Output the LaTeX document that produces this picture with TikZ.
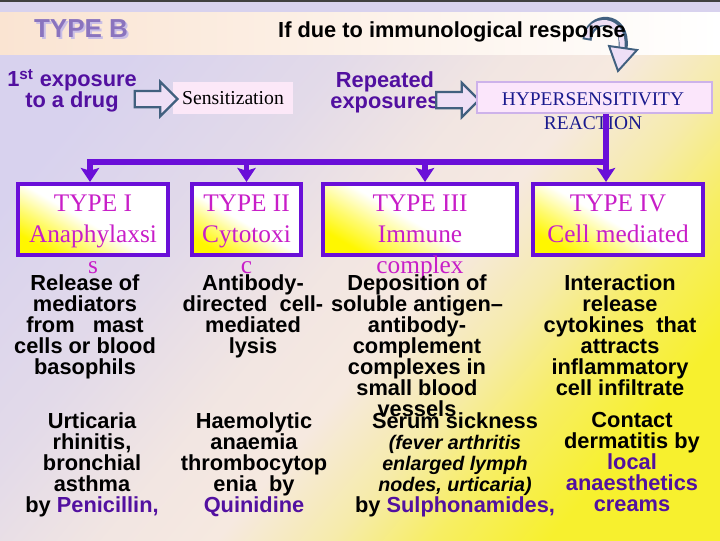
\documentclass[tikz,border=0pt]{standalone}
\usepackage{fontspec}
\setmainfont{Liberation Serif}
\setsansfont{Liberation Sans}
\usepackage{tikz}
\usetikzlibrary{arrows.meta,positioning,calc,shapes.arrows}
\definecolor{drugpurple}{HTML}{5210A0}
\definecolor{typemagenta}{HTML}{C81EC8}
\definecolor{treepurple}{HTML}{6A0FD8}
\definecolor{arrowslate}{HTML}{41607F}
\definecolor{arrowfill}{HTML}{EEDFF6}
\definecolor{hypblue}{HTML}{1A1A8E}
\definecolor{hypfill}{HTML}{FBE6FB}
\definecolor{hypglow}{HTML}{CDB2EA}
\definecolor{sensfill}{HTML}{FCE8F8}
\definecolor{bgviolet}{HTML}{D8D2EE}
\definecolor{bgpeach}{HTML}{F6E9E0}
\definecolor{bgyellow}{HTML}{F7F02E}
\definecolor{bandpeach}{HTML}{FAE4D2}
\definecolor{boxyellow}{HTML}{FFF700}
\definecolor{typebviolet}{HTML}{8A74BE}
\definecolor{typebshade}{HTML}{C9BEE6}
\pgfdeclareverticalshading{slidebg}{100bp}{color(0bp)=(bgyellow); color(25bp)=(bgyellow);
  color(32bp)=(bgyellow!70!bgpeach); color(38bp)=(bgyellow!30!bgpeach); color(45bp)=(bgpeach);
  color(52bp)=(bgpeach!85!bgviolet); color(62bp)=(bgviolet!65!bgpeach); color(75bp)=(bgviolet);
  color(100bp)=(bgviolet)}
\pgfdeclareverticalshading{boxglow}{100bp}{color(0bp)=(boxyellow); color(25bp)=(boxyellow);
  color(36bp)=(boxyellow!55!white); color(48bp)=(white); color(100bp)=(white)}
\newcommand{\drugname}[1]{\textcolor{drugpurple}{#1}}
\newcommand{\symptom}[1]{{\itshape\fontsize{14}{15}\selectfont #1}}

\begin{document}
\begin{tikzpicture}[x=0.025cm,y=-0.025cm,
  bodytext/.style={font=\sffamily\bfseries\fontsize{15.5}{15}\selectfont,align=center,
                   inner sep=0pt,anchor=north},
  drugtext/.style={bodytext,text=drugpurple},
  typebox/.style={draw=treepurple,line width=2.8pt,minimum height=1.775cm,inner sep=0pt,
                  shading=boxglow,shading angle=-30},
  typetext/.style={font=\fontsize{18}{22}\selectfont,text=typemagenta,align=center,
                   inner sep=0pt,anchor=north},
  blockarrow/.style={single arrow,draw=arrowslate,line width=1.6pt,fill=arrowfill,
                     minimum height=1.07cm,minimum width=0pt,inner sep=0.175cm,
                     single arrow head extend=0.225cm},
  tree/.style={treepurple,line width=3.6pt,-{Stealth[width=13pt,length=10pt,inset=2pt]}},
]
  % background
  \shade[shading=slidebg,shading angle=50] (0,0) rectangle (720,540);
  \fill[bgviolet] (0,0) rectangle (720,12);
  \fill[black!75] (0,0) rectangle (720,2);
  \shade[left color=bandpeach,right color=white] (0,12) rectangle (720,54);

  % curved arrow
  \draw[arrowslate,line width=6.5pt] (587,40) .. controls (589,14) and (627,14) .. (623,48);
  \draw[arrowfill,line width=3.6pt] (587,38) .. controls (589,16) and (625,16) .. (622,48);
  \filldraw[fill=arrowfill,draw=arrowslate,line width=1.4pt] (609,46) -- (637,50) -- (618,71) -- cycle;

  \node[font=\sffamily\bfseries\fontsize{18.5}{20}\selectfont,text=typebshade] (typebs) at (83,31) {TYPE B};
  \node[font=\sffamily\bfseries\fontsize{18.5}{20}\selectfont,text=typebviolet] (typeb) at (81,29) {TYPE B};
  \node[font=\sffamily\bfseries\fontsize{15.5}{18}\selectfont] (title) at (452,32) {If due to immunological response};

  % first row
  \node[drugtext] (first) at (72,69) {1\textsuperscript{st} exposure\\to a drug};
  \node[fill=sensfill,minimum width=3cm,minimum height=0.775cm,font=\fontsize{14}{16}\selectfont] (sens) at (233,98) {Sensitization};
  \node[drugtext] (again) at (385,71) {Repeated\\exposures};
  \node[blockarrow] (arr1) at (152,99) {};
  \node[blockarrow] (arr2) at (453.5,100) {};
  \node[fill=hypfill,draw=hypglow,line width=2pt,minimum width=5.875cm,minimum height=0.775cm] (hyp) at (594.5,97.5) {};
  \node[font=\fontsize{13.8}{17}\selectfont,text=hypblue,align=center,inner sep=0pt,anchor=north] (hyptxt) at (593,92) {HYPERSENSITIVITY\\REACTION};

  % types
  \node[typebox,minimum width=3.75cm] (t1) at (93,219.5) {};
  \node[typebox,minimum width=2.725cm] (t2) at (246.5,219.5) {};
  \node[typebox,minimum width=4.85cm] (t3) at (420,219.5) {};
  \node[typebox,minimum width=4.25cm] (t4) at (618,219.5) {};
  \node[typetext] (t1txt) at (93,195) {TYPE I\\Anaphylaxsi\\s};
  \node[typetext] (t2txt) at (246.5,195) {TYPE II\\Cytotoxi\\c};
  \node[typetext] (t3txt) at (420,195) {TYPE III\\Immune\\complex};
  \node[typetext] (t4txt) at (618,195) {TYPE IV\\Cell mediated};

  \coordinate (split) at (606,162);
  \draw[tree] (hyp.south -| split) -- (t4.north -| split);
  \draw[tree] (split) -| ($(t1.north)+(-3,0)$);
  \draw[tree] (split -| t2.north) -- (t2.north);
  \draw[tree] ($(split -| t3.north)+(5,0)$) -- ($(t3.north)+(5,0)$);

  % mechanisms
  \node[bodytext] (mech1) at (85,274) {Release of\\mediators\\from~~~mast\\cells or blood\\basophils};
  \node[bodytext] (mech2) at (253,274) {Antibody-\\directed~~cell-\\mediated\\lysis};
  \node[bodytext] (mech3) at (417,274) {Deposition of\\soluble antigen–\\antibody-\\complement\\complexes in\\small blood\\vessels};
  \node[bodytext] (mech4) at (620,274) {Interaction\\release\\cytokines~~that\\attracts\\inflammatory\\cell infiltrate};

  % examples
  \node[bodytext] (ex1) at (92,412) {Urticaria\\rhinitis,\\bronchial\\asthma\\by \drugname{Penicillin,}};
  \node[bodytext] (ex2) at (254,412) {Haemolytic\\anaemia\\thrombocytop\\enia~~by\\\drugname{Quinidine}};
  \node[bodytext] (ex3) at (455,412) {Serum sickness\\\symptom{(fever arthritis}\\\symptom{enlarged lymph}\\\symptom{nodes, urticaria)}\\by \drugname{Sulphonamides,}};
  \node[bodytext] (ex4) at (632,412) {Contact\\dermatitis by\\\drugname{local}\\\drugname{anaesthetics}\\\drugname{creams}};
\end{tikzpicture}
\end{document}
